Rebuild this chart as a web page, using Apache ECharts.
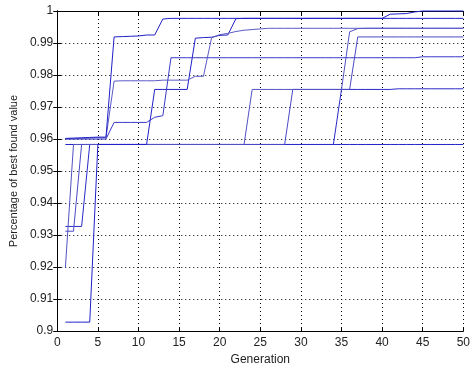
<!DOCTYPE html>
<html>
<head>
<meta charset="utf-8">
<script src="https://cdn.jsdelivr.net/npm/echarts@6/dist/echarts.min.js"></script>
<style>
html,body{margin:0;padding:0;background:#fff;}
#c{width:473px;height:371px;}
</style>
</head>
<body>
<div id="c"></div>
<script>
var generations = [1,2,3,4,5,6,7,8,9,10,11,12,13,14,15,16,17,18,19,20,21,22,23,24,25,26,27,28,29,30,31,32,33,34,35,36,37,38,39,40,41,42,43,44,45,46,47,48,49,50];

var xTicks = [0,5,10,15,20,25,30,35,40,45,50];
var yTickLabels = ['0.9','0.91','0.92','0.93','0.94','0.95','0.96','0.97','0.98','0.99','1'];

var run1 = [0.9602,0.9603,0.9604,0.9605,0.9606,0.9606,0.9919,0.9920,0.9921,0.9922,
            0.9925,0.9925,0.9975,0.9977,0.9977,0.9977,0.9977,0.9977,0.9977,0.9977,
            0.9977,0.9977,0.9977,0.9977,0.9977,0.9977,0.9977,0.9977,0.9977,0.9977,
            0.9977,0.9977,0.9977,0.9977,0.9977,0.9977,0.9977,0.9977,0.9977,0.9977,
            0.9977,0.9977,0.9977,0.9977,0.9977,0.9977,0.9977,0.9977,0.9977,0.9977];
var run2 = [0.9601,0.9601,0.9602,0.9603,0.9604,0.9604,0.9781,0.9782,0.9782,0.9782,
            0.9782,0.9782,0.9784,0.9784,0.9784,0.9784,0.9796,0.9796,0.9916,0.9926,
            0.9930,0.9936,0.9940,0.9942,0.9944,0.9946,0.9946,0.9946,0.9946,0.9946,
            0.9946,0.9946,0.9946,0.9946,0.9946,0.9946,0.9946,0.9946,0.9946,0.9946,
            0.9946,0.9946,0.9946,0.9946,0.9946,0.9946,0.9946,0.9946,0.9946,0.9946];
var run3 = [0.9600,0.9600,0.9600,0.9600,0.9600,0.9600,0.9652,0.9652,0.9652,0.9652,
            0.9652,0.9668,0.9673,0.9854,0.9854,0.9854,0.9854,0.9854,0.9854,0.9854,
            0.9854,0.9854,0.9854,0.9854,0.9854,0.9854,0.9854,0.9854,0.9854,0.9854,
            0.9854,0.9854,0.9854,0.9854,0.9854,0.9854,0.9854,0.9854,0.9854,0.9854,
            0.9854,0.9854,0.9854,0.9854,0.9857,0.9857,0.9857,0.9857,0.9857,0.9857];
var run4 = [0.9028,0.9028,0.9028,0.9028,0.9583,0.9583,0.9583,0.9583,0.9583,0.9583,
            0.9583,0.9755,0.9755,0.9755,0.9755,0.9755,0.9915,0.9917,0.9918,0.9924,
            0.9925,0.9976,0.9977,0.9977,0.9977,0.9977,0.9977,0.9977,0.9977,0.9977,
            0.9977,0.9977,0.9977,0.9977,0.9977,0.9977,0.9977,0.9977,0.9977,0.9977,
            0.9990,0.9991,0.9992,0.9997,1.0000,1.0000,1.0000,1.0000,1.0000,1.0000];
var run5 = [0.9198,0.9583,0.9583,0.9583,0.9583,0.9583,0.9583,0.9583,0.9583,0.9583,
            0.9583,0.9583,0.9583,0.9583,0.9583,0.9583,0.9583,0.9583,0.9583,0.9583,
            0.9583,0.9583,0.9583,0.9755,0.9755,0.9755,0.9755,0.9755,0.9755,0.9755,
            0.9755,0.9755,0.9755,0.9755,0.9755,0.9935,0.9945,0.9946,0.9946,0.9946,
            0.9946,0.9946,0.9946,0.9946,0.9946,0.9946,0.9946,0.9946,0.9946,0.9946];
var run6 = [0.9312,0.9312,0.9583,0.9583,0.9583,0.9583,0.9583,0.9583,0.9583,0.9583,
            0.9583,0.9583,0.9583,0.9583,0.9583,0.9583,0.9583,0.9583,0.9583,0.9583,
            0.9583,0.9583,0.9583,0.9583,0.9583,0.9583,0.9583,0.9583,0.9755,0.9755,
            0.9755,0.9755,0.9755,0.9755,0.9755,0.9755,0.9919,0.9919,0.9919,0.9919,
            0.9919,0.9919,0.9919,0.9919,0.9919,0.9919,0.9919,0.9919,0.9919,0.9919];
var run7 = [0.9327,0.9327,0.9327,0.9583,0.9583,0.9583,0.9583,0.9583,0.9583,0.9583,
            0.9583,0.9583,0.9583,0.9583,0.9583,0.9583,0.9583,0.9583,0.9583,0.9583,
            0.9583,0.9583,0.9583,0.9583,0.9583,0.9583,0.9583,0.9583,0.9583,0.9583,
            0.9583,0.9583,0.9583,0.9583,0.9755,0.9755,0.9755,0.9755,0.9755,0.9755,
            0.9755,0.9757,0.9757,0.9757,0.9757,0.9757,0.9757,0.9757,0.9757,0.9757];
var run8 = [0.9583,0.9583,0.9583,0.9583,0.9583,0.9583,0.9583,0.9583,0.9583,0.9583,
            0.9583,0.9583,0.9583,0.9583,0.9583,0.9583,0.9583,0.9583,0.9583,0.9583,
            0.9583,0.9583,0.9583,0.9583,0.9583,0.9583,0.9583,0.9583,0.9583,0.9583,
            0.9583,0.9583,0.9583,0.9583,0.9583,0.9583,0.9583,0.9583,0.9583,0.9583,
            0.9583,0.9583,0.9583,0.9583,0.9583,0.9583,0.9583,0.9583,0.9583,0.9583];

var runs = [run8, run7, run6, run5, run4, run3, run2, run1];
var runColors = ['#2020c8','#2a2ac8','#4a4ac6','#5252c4','#2020c8','#3a3ac8','#5a5ac6','#2020c8'];

var FONT = '"Liberation Sans", Arial, Helvetica, sans-serif';

var chart = echarts.init(document.getElementById('c'), null, {renderer: 'canvas'});

var series = runs.map(function (r, k) {
  return {
    type: 'line',
    data: generations.map(function (g, i) { return [g, r[i]]; }),
    showSymbol: false,
    symbol: 'none',
    clip: false,
    lineStyle: {color: runColors[k], width: 1},
    itemStyle: {color: runColors[k]},
    emphasis: {disabled: true},
    animation: false
  };
});

function yFmt(v) {
  var idx = Math.round((v - 0.9) / 0.01);
  return yTickLabels[idx] !== undefined ? yTickLabels[idx] : '';
}

var gridLine = {show: true, lineStyle: {color: '#000', width: 1, type: [1, 3]}};

chart.setOption({
  backgroundColor: '#fff',
  animation: false,
  grid: {left: 57, right: 3, top: 11, bottom: 37, containLabel: false},
  xAxis: [{
    type: 'value', min: 0, max: 50, interval: 5,
    position: 'bottom',
    name: 'Generation', nameLocation: 'middle', nameGap: 20,
    nameTextStyle: {fontFamily: FONT, fontSize: 12, color: '#222'},
    axisLine: {show: true, lineStyle: {color: '#000', width: 1}},
    axisTick: {show: true, inside: true, length: 4, lineStyle: {color: '#000'}},
    axisLabel: {fontFamily: FONT, fontSize: 12, color: '#222', margin: 6,
      formatter: function (v) { return xTicks.indexOf(v) >= 0 ? String(v) : ''; }},
    splitLine: gridLine
  }, {
    type: 'value', min: 0, max: 50, interval: 5,
    position: 'top',
    axisLine: {show: true, lineStyle: {color: '#000', width: 1}},
    axisTick: {show: true, inside: true, length: 4, lineStyle: {color: '#000'}},
    axisLabel: {show: false},
    splitLine: {show: false}
  }],
  yAxis: [{
    type: 'value', min: 0.9, max: 1, interval: 0.01,
    position: 'left',
    name: 'Percentage of best found value', nameLocation: 'middle', nameGap: 34,
    nameTextStyle: {fontFamily: FONT, fontSize: 11, color: '#222'},
    axisLine: {show: true, lineStyle: {color: '#000', width: 1}},
    axisTick: {show: true, inside: true, length: 4, lineStyle: {color: '#000'}},
    axisLabel: {fontFamily: FONT, fontSize: 12, color: '#222', margin: 4, formatter: yFmt},
    splitLine: gridLine
  }, {
    type: 'value', min: 0.9, max: 1, interval: 0.01,
    position: 'right',
    axisLine: {show: true, lineStyle: {color: '#000', width: 1}},
    axisTick: {show: true, inside: true, length: 4, lineStyle: {color: '#000'}},
    axisLabel: {show: false},
    splitLine: {show: false}
  }],
  series: series
});
</script>
</body>
</html>
